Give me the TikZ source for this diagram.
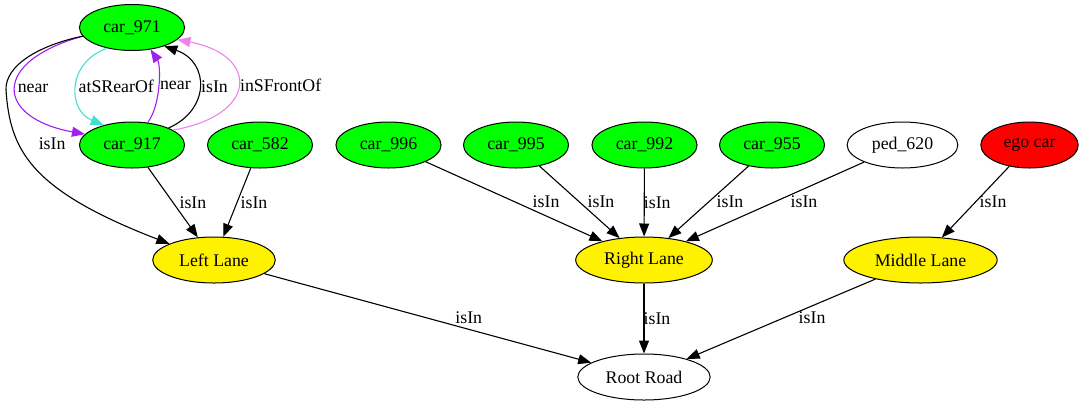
\documentclass[tikz,border=0pt]{standalone}
\usepackage{fontspec}
\setmainfont{Liberation Serif}
\usetikzlibrary{shapes.geometric,arrows.meta}
\definecolor{gvpurple}{HTML}{A020F0}
\definecolor{gvturquoise}{HTML}{40E0D0}
\definecolor{gvviolet}{HTML}{EE82EE}

\begin{document}
\begin{tikzpicture}[x=1bp,y=-1bp,
    every node/.style={font=\fontsize{17.8bp}{21bp}\selectfont},
    obj/.style={ellipse,draw,line width=1bp,inner xsep=8.5bp,inner ysep=2bp,minimum height=46bp},
    car/.style={obj,fill=green},
    lane/.style={obj,fill=yellow},
    rel/.style={line width=1.1bp,-{Triangle[length=13bp,width=10bp]}},
    lbl/.style={inner sep=1.5bp,text=black}]
    \useasboundingbox (0,0) rectangle (1084,407);
    % objects
    \node[car] (c971) at (132,27.5) {car\_971};
    \node[car] (c917) at (132,145) {car\_917};
    \node[car] (c582) at (260,145) {car\_582};
    \node[car] (c996) at (388.5,145) {car\_996};
    \node[car] (c995) at (516,145) {car\_995};
    \node[car] (c992) at (644.5,145) {car\_992};
    \node[car] (c955) at (772,145) {car\_955};
    \node[obj] (p620) at (902.5,145) {ped\_620};
    \node[obj,fill=red] (ego) at (1029.5,145) {ego car};
    % lanes and road
    \node[lane] (left) at (214,260) {Left Lane};
    \node[lane] (right) at (644,260) {Right Lane};
    \node[lane] (middle) at (920.5,260) {Middle Lane};
    \node[obj] (road) at (644,377) {Root Road};
    % relations between car_971 and car_917
    \draw[rel,gvpurple] (c971.190) .. controls (-10,62) and (-4,118) .. (c917.167)
        node[lbl,pos=.5,anchor=west] {near};
    \draw[rel,gvturquoise] (c971.220) .. controls (67,62) and (67,110) .. (c917.145)
        node[lbl,pos=.5,anchor=west] {atSRearOf};
    \draw[rel,gvpurple] (c917.55) .. controls (161,105) and (161,65) .. (c971.310)
        node[lbl,pos=.5,anchor=west] {near};
    \draw[rel] (c917.25) .. controls (210,110) and (210,62) .. (c971.330)
        node[lbl,pos=.5,anchor=west] {isIn};
    \draw[rel,gvviolet] (c917.20) .. controls (259,115) and (259,55) .. (c971.345)
        node[lbl,pos=.5,anchor=west] {inSFrontOf};
    \draw[rel] (c971.190) .. controls (40,45) and (5,65) .. (6,90)
        .. controls (10,150) and (30,190) .. (left.160)
        node[lbl,pos=.3,anchor=west,xshift=20bp,yshift=-4bp] {isIn};
    % isIn edges
    \draw[rel] (c917) -- node[lbl,xshift=20bp] {isIn} (left);
    \draw[rel] (c582) -- node[lbl,xshift=17bp] {isIn} (left);
    \draw[rel] (c996) -- node[lbl,xshift=32bp] {isIn} (right);
    \draw[rel] (c995) -- node[lbl,xshift=21.5bp] {isIn} (right);
    \draw[rel] (c992) -- node[lbl,xshift=13bp] {isIn} (right);
    \draw[rel] (c955) -- node[lbl,xshift=21.5bp] {isIn} (right);
    \draw[rel] (p620) -- node[lbl,xshift=29bp] {isIn} (right);
    \draw[rel] (ego) -- node[lbl,xshift=17.5bp] {isIn} (middle);
    \draw[rel] (left) -- node[lbl,xshift=41bp] {isIn} (road);
    \draw[rel] (right) -- node[lbl,xshift=13bp] {isIn} (road);
    \draw[rel] (middle) -- node[lbl,xshift=31bp,yshift=1bp] {isIn} (road);
\end{tikzpicture}
\end{document}
